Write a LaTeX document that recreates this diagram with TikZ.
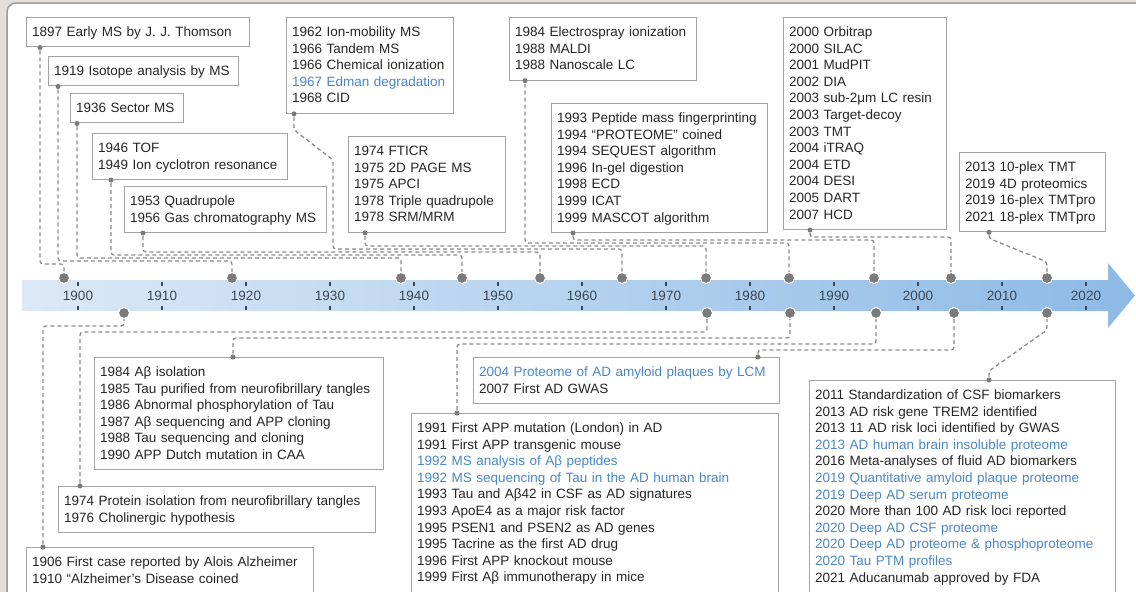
\documentclass[tikz,border=0pt]{standalone}
\usepackage{fontspec}
\setmainfont{Liberation Sans}
\definecolor{cink}{HTML}{262626}
\definecolor{cblue}{HTML}{4A88C7}
\definecolor{cbox}{HTML}{A3A3A3}
\definecolor{cline}{HTML}{8C8C8C}
\definecolor{cdot}{HTML}{7A7A7A}
\definecolor{cyear}{HTML}{3A4656}
\definecolor{cbarl}{HTML}{DCE9F6}
\definecolor{cbarr}{HTML}{8DBAE5}
\definecolor{cframe}{HTML}{9C9C9C}
\definecolor{cedge}{HTML}{E6DEDA}
\newcommand{\topstrut}{\rule{0pt}{13.5pt}}
\tikzset{
  every picture/.style={font=\fontsize{13.5}{16.6}\selectfont, line width=1pt},
  ebox/.style={draw=cbox, fill=white, anchor=north west, align=left, text=cink, inner xsep=5.5pt, inner ysep=5.5pt,
    execute at begin node=\topstrut, execute at end node=\strut},
  tack/.style={circle, fill=cdot, inner sep=0pt, minimum size=5pt},
  dot/.style={circle, fill=cdot, draw=white, line width=1pt, inner sep=0pt, minimum size=11pt},
  link/.style={draw=cline, line width=1.3pt, dash pattern=on 4pt off 3pt, rounded corners=3pt},
  year/.style={text=cyear, inner sep=1pt},
  tick/.style={draw=cyear, line width=1.3pt},
}
\begin{document}
\begin{tikzpicture}[x=1pt, y=-1pt]
  \useasboundingbox (0,0) rectangle (1136,592);
  \fill[cedge] (0,0) rectangle (1136,592);
  \begin{scope}
    \clip (0,0) rectangle (1136,592);
    \draw[cframe, fill=white, line width=1.5pt, rounded corners=9pt] (7,3) rectangle (1180,640);
  \end{scope}
  % timeline arrow
  \shade[left color=cbarl, right color=cbarr] (22,280) -- (1108,280) -- (1108,263) -- (1135,295.5) -- (1108,328) -- (1108,311) -- (22,311) -- cycle;
  \foreach \yr [count=\i from 0] in {1900,1910,...,2020} {
    \node[year] (y\yr) at ({78+84*\i},296) {\yr};
    \draw[tick] ({78+84*\i},282) -- ++(0,4) ({78+84*\i},306) -- ++(0,4);
  }
  \foreach \n/\x in {1897/64, 1919/232, 1936/401, 1946/462, 1953/540, 1962/622, 1974/706, 1984/789, 1993/874, 2000/951, 2013/1047}
    \node[dot] (d\n) at (\x,278) {};
  \foreach \n/\x in {1906/124, 1974/707, 1984/790, 1991/876, 2004/954, 2011/1047}
    \node[dot] (e\n) at (\x,313) {};

  % mass spectrometry, above the arrow
  \node[ebox, text width=212pt] (ms1897) at (26,17) {1897 Early MS by J. J. Thomson};
  \node[ebox, text width=179pt] (ms1919) at (48,56) {1919 Isotope analysis by MS};
  \node[ebox, text width=102pt] (ms1936) at (70,93) {1936 Sector MS};
  \node[ebox, text width=184pt] (ms1946) at (92,133) {1946 TOF\\1949 Ion cyclotron resonance};
  \node[ebox, text width=191pt] (ms1953) at (124,186) {1953 Quadrupole\\1956 Gas chromatography MS};
  \node[ebox, text width=156pt] (ms1962) at (286,17) {1962 Ion-mobility MS\\1966 Tandem MS\\1966 Chemical ionization\\\textcolor{cblue}{1967 Edman degradation}\\1968 CID};
  \node[ebox, text width=146pt] (ms1974) at (348,136) {1974 FTICR\\1975 2D PAGE MS\\1975 APCI\\1978 Triple quadrupole\\1978 SRM/MRM};
  \node[ebox, text width=176pt] (ms1984) at (509,17) {1984 Electrospray ionization\\1988 MALDI\\1988 Nanoscale LC};
  \node[ebox, text width=205pt] (ms1993) at (551,103) {1993 Peptide mass fingerprinting\\1994 “PROTEOME” coined\\1994 SEQUEST algorithm\\1996 In-gel digestion\\1998 ECD\\1999 ICAT\\1999 MASCOT algorithm};
  \node[ebox, text width=152pt] (ms2000) at (783,17) {2000 Orbitrap\\2000 SILAC\\2001 MudPIT\\2002 DIA\\2003 sub-2μm LC resin\\2003 Target-decoy\\2003 TMT\\2004 iTRAQ\\2004 ETD\\2004 DESI\\2005 DART\\2007 HCD};
  \node[ebox, text width=135pt] (ms2013) at (959,152) {2013 10-plex TMT\\2019 4D proteomics\\2019 16-plex TMTpro\\2021 18-plex TMTpro};

  % Alzheimer's disease, below the arrow
  \node[ebox, text width=278pt] (ad1984) at (94,357) {1984 Aβ isolation\\1985 Tau purified from neurofibrillary tangles\\1986 Abnormal phosphorylation of Tau\\1987 Aβ sequencing and APP cloning\\1988 Tau sequencing and cloning\\1990 APP Dutch mutation in CAA};
  \node[ebox, text width=306pt] (ad1974) at (58,486) {1974 Protein isolation from neurofibrillary tangles\\1976 Cholinergic hypothesis};
  \node[ebox, text width=276pt] (ad1906) at (26,547) {1906 First case reported by Alois Alzheimer\\1910 “Alzheimer’s Disease coined};
  \node[ebox, text width=295pt] (ad2004) at (473,357) {\textcolor{cblue}{2004 Proteome of AD amyloid plaques by LCM}\\2007 First AD GWAS};
  \node[ebox, text width=356pt] (ad1991) at (411,413) {1991 First APP mutation (London) in AD\\1991 First APP transgenic mouse\\\textcolor{cblue}{1992 MS analysis of Aβ peptides}\\\textcolor{cblue}{1992 MS sequencing of Tau in the AD human brain}\\1993 Tau and Aβ42 in CSF as AD signatures\\1993 ApoE4 as a major risk factor\\1995 PSEN1 and PSEN2 as AD genes\\1995 Tacrine as the first AD drug\\1996 First APP knockout mouse\\1999 First Aβ immunotherapy in mice};
  \node[ebox, text width=295pt] (ad2011) at (809,380) {2011 Standardization of CSF biomarkers\\2013 AD risk gene TREM2 identified\\2013 11 AD risk loci identified by GWAS\\\textcolor{cblue}{2013 AD human brain insoluble proteome}\\2016 Meta-analyses of fluid AD biomarkers\\\textcolor{cblue}{2019 Quantitative amyloid plaque proteome}\\\textcolor{cblue}{2019 Deep AD serum proteome}\\2020 More than 100 AD risk loci reported\\\textcolor{cblue}{2020 Deep AD CSF proteome}\\\textcolor{cblue}{2020 Deep AD proteome \& phosphoproteome}\\\textcolor{cblue}{2020 Tau PTM profiles}\\2021 Aducanumab approved by FDA};

  % tacks and dashed leaders
  \foreach \n/\dx in {1897/14, 1919/10, 1936/7, 1946/19, 1953/19, 1962/8, 1974/17, 1984/16, 1993/22, 2000/27, 2013/30}
    \node[tack] (p\n) at ([xshift=\dx pt]ms\n.south west) {};
  \foreach \n/\dx in {1906/17, 1974/22, 1984/139, 1991/46, 2004/285, 2011/180}
    \node[tack] (q\n) at ([xshift=\dx pt]ad\n.north west) {};
  \foreach \n/\lv in {1897/14, 1919/17, 1936/20, 1946/23, 1953/26, 1974/32, 1984/35, 1993/38, 2000/41}
    \draw[link] (p\n) |- ([yshift=\lv pt]d\n.center) -- (d\n);
  \coordinate (k1962) at (333,160);
  \draw[link] (p1962) -- ++(0,16) -- (k1962) |- ([yshift=29pt]d1962.center) -- (d1962);
  \draw[link] (p2013) -- ++(0,6) -- ([yshift=16pt]d2013.center) -- (d2013);
  \foreach \n/\lv in {1906/13, 1974/19, 1984/25, 1991/31, 2004/37}
    \draw[link] (q\n) |- ([yshift=-\lv pt]e\n.center) -- (e\n);
  \draw[link] (q2011) -- ++(0,-9) -- ([yshift=-17pt]e2011.center) -- (e2011);
\end{tikzpicture}
\end{document}
